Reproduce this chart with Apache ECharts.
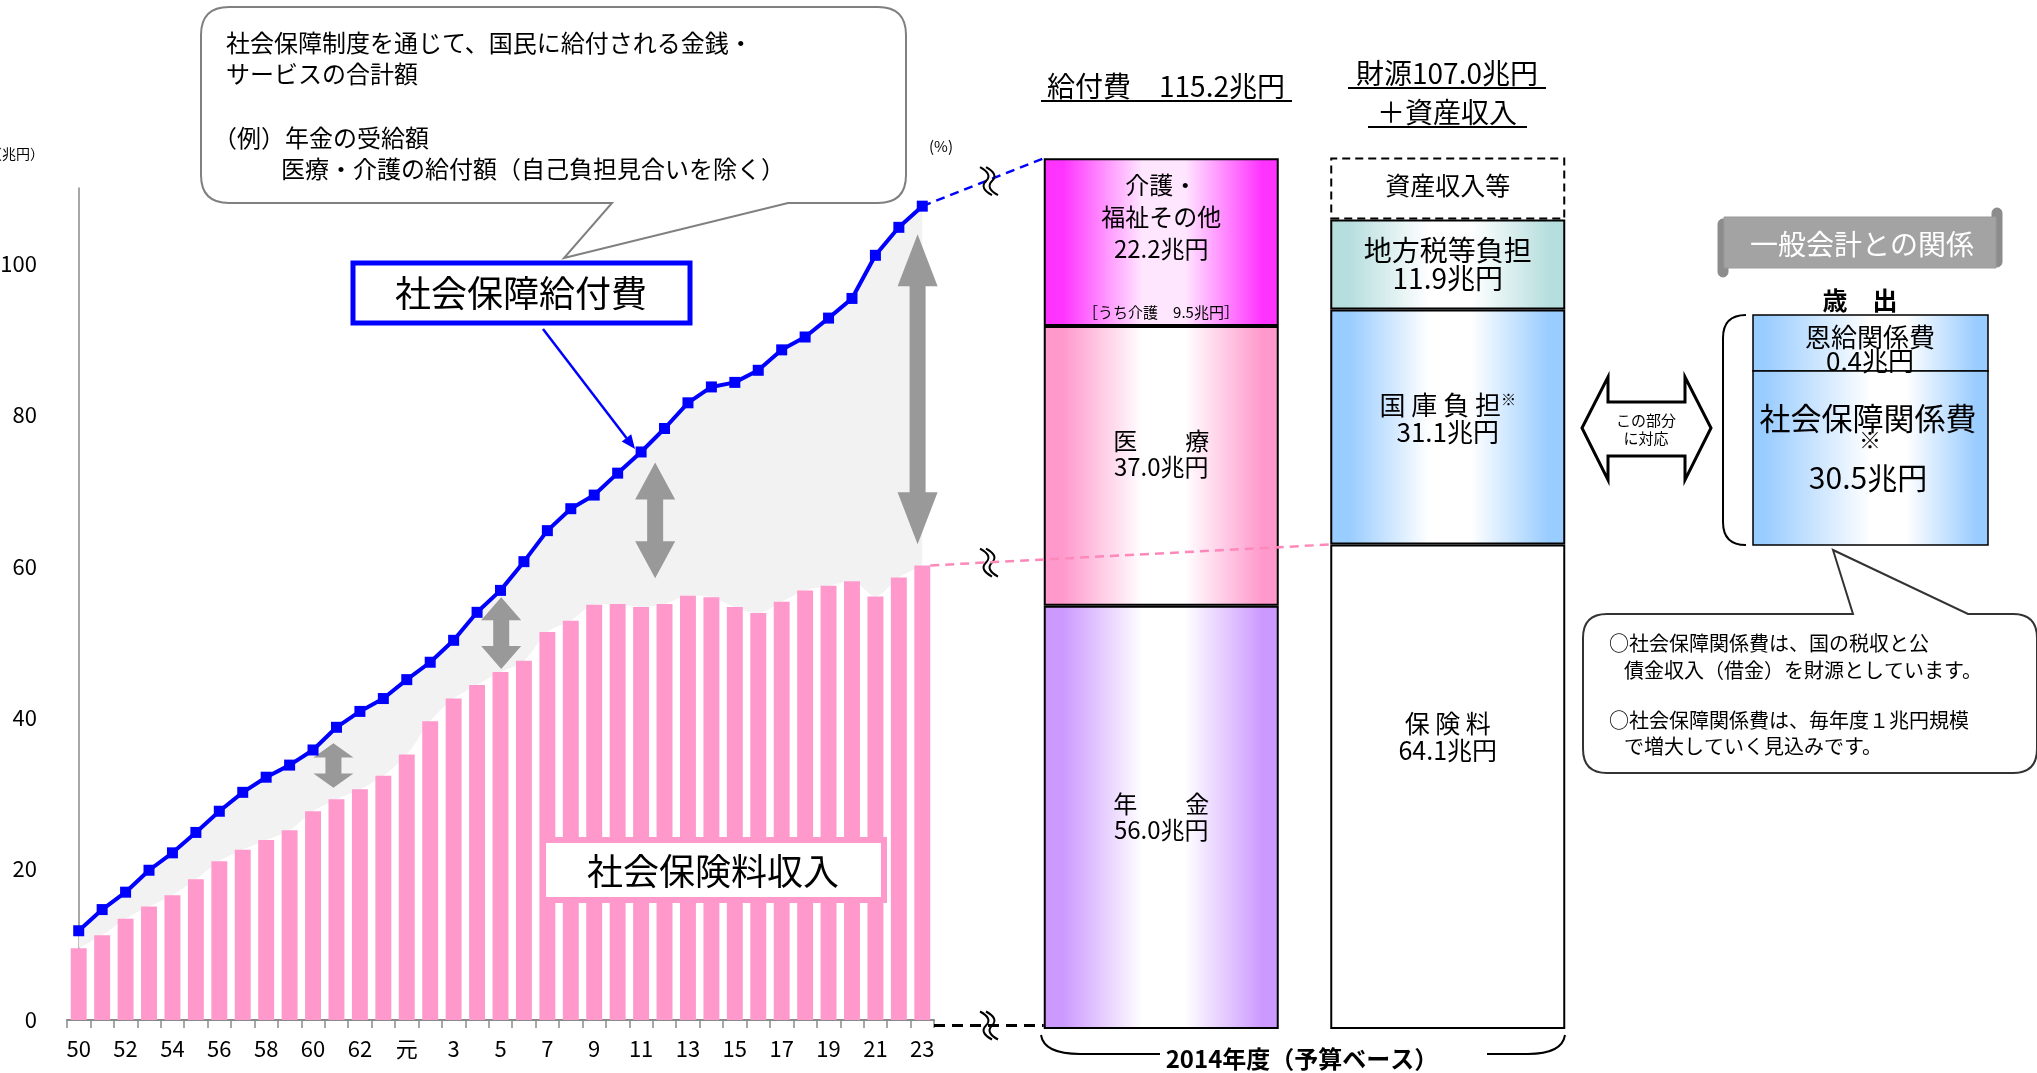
<!DOCTYPE html>
<html><head><meta charset="utf-8">
<script src="https://cdn.jsdelivr.net/npm/echarts@6/dist/echarts.min.js"></script>
<style>html,body{margin:0;padding:0;background:#fff}#c{width:2037px;height:1073px}</style>
</head><body><div id="c"></div>
<script>
// ---- data ----
const years = ['50','51','52','53','54','55','56','57','58','59','60','61','62','63','元','2','3','4','5','6','7','8','9','10','11','12','13','14','15','16','17','18','19','20','21','22','23'];
const benefitTotal = [11.8,14.6,16.9,19.8,22.1,24.8,27.6,30.1,32.1,33.7,35.7,38.7,40.8,42.5,45.0,47.3,50.2,53.9,56.8,60.6,64.7,67.6,69.4,72.3,75.1,78.2,81.6,83.7,84.3,85.9,88.6,90.3,92.8,95.4,101.1,104.8,107.6];
const insuranceIncome = [9.5,11.2,13.4,15.0,16.5,18.6,21.0,22.5,23.8,25.1,27.6,29.2,30.5,32.3,35.1,39.5,42.5,44.3,46.0,47.5,51.3,52.8,54.9,55.0,54.6,55.0,56.1,55.9,54.6,53.8,55.3,56.8,57.4,58.0,56.0,58.5,60.1];
const gapArrows = [[10.87,36.6,30.7],[18.03,55.9,46.4],[24.6,73.7,58.4],[35.8,103.9,62.9]];
const yMax = 110, yStep = 20;
const columnCats = ['給付費','財源'];
const benefitLabels = ['年　　金','医　　療','介護・\n福祉その他'];
const benefitValues = [56.0,37.0,22.2];
const fundLabels = ['保 険 料','国 庫 負 担','地方税等負担','資産収入等'];
const fundValues = [64.1,31.1,11.9,8.2];
const generalLabels = ['恩給関係費','社会保障関係費'];
const generalValues = [0.4,30.5];

// ---- layout ----
const FF = 'Noto Sans CJK JP';
const G0 = {left:67, top:188, width:867, height:832};
const G1 = {left:1018, top:122, width:573, height:907};
const colBarW = 235;
const grad = (c, mid) => new echarts.graphic.LinearGradient(0,0,1,0,[
  {offset:0,color:c},{offset:0.08,color:c},{offset:0.42,color:mid||'#fff'},{offset:0.6,color:mid||'#fff'},{offset:0.93,color:c},{offset:1,color:c}]);
const gradR = c => new echarts.graphic.LinearGradient(0,0,1,0,[
  {offset:0,color:c},{offset:0.05,color:c},{offset:0.5,color:'#fff'},{offset:0.65,color:'#fff'},{offset:0.95,color:c},{offset:1,color:c}]);

const gapValues = benefitTotal.map((v,i)=> +(v - insuranceIncome[i]).toFixed(2));

const benefitStyles = [
  {fill:grad('#cc99ff'), fs:24, lh:26, off:0},
  {fill:grad('#ff99cc'), fs:24, lh:26, off:-12},
  {fill:grad('#ff33ff','#ffe6ff'), fs:24, lh:32, off:-25}
];
const fundStyles = [
  {fill:'#ffffff', fs:25, lh:27, off:-50},
  {fill:grad('#99ccff'), fs:26, lh:27, off:-8, sup:true},
  {fill:grad('#b7dede'), fs:28, lh:28, off:0},
  {fill:'#ffffff', fs:25, lh:27, off:-3, dashed:true, noValue:true}
];

const colSeries = [];
benefitValues.forEach((v,i)=>{
  const s = benefitStyles[i];
  colSeries.push({
    type:'bar', name:benefitLabels[i], xAxisIndex:2, yAxisIndex:1, stack:'col', barWidth:colBarW,
    data:[v,'-'],
    itemStyle:{color:s.fill, borderColor:'#000', borderWidth:2},
    label:{show:true, position:'inside', offset:[0,s.off], color:'#000', fontFamily:FF, fontSize:s.fs, lineHeight:s.lh,
      formatter: p => benefitLabels[i] + '\n' + p.value.toFixed(1) + '兆円'}
  });
});
fundValues.forEach((v,i)=>{
  const s = fundStyles[i];
  colSeries.push({
    type:'bar', name:fundLabels[i], xAxisIndex:2, yAxisIndex:1, stack:'col', barWidth:colBarW,
    data:['-',v],
    itemStyle:{color:s.fill, borderColor:'#000', borderWidth:2, borderType: s.dashed ? [8,5] : 'solid'},
    label:{show:true, position:'inside', offset:[0,s.off], color:'#000', fontFamily:FF, fontSize:s.fs, lineHeight:s.lh,
      rich:{t:{fontFamily:FF, fontSize:s.fs, lineHeight:s.lh, color:'#000'}, s:{fontFamily:FF, fontSize:15, lineHeight:s.lh, verticalAlign:'top', color:'#000'}},
      formatter: p => s.noValue ? fundLabels[i] : (s.sup ? '{t|'+fundLabels[i]+'}{s|※}\n{t|'+p.value.toFixed(1)+'兆円}' : fundLabels[i] + '\n' + p.value.toFixed(1) + '兆円')}
  });
});

const chart = echarts.init(document.getElementById('c'), null, {renderer:'canvas'});
const option = {
  animation:false,
  backgroundColor:'#fff',
  textStyle:{fontFamily:FF},
  grid:[
    Object.assign({outerBoundsMode:'none', containLabel:false}, G0),
    Object.assign({outerBoundsMode:'none', containLabel:false}, G1)
  ],
  xAxis:[
    {type:'category', gridIndex:0, data:years, boundaryGap:true,
      axisLine:{lineStyle:{color:'#8a8a8a', width:2}},
      axisTick:{show:true, interval:0, length:8, lineStyle:{color:'#8a8a8a', width:1.5}},
      axisLabel:{interval:1, color:'#000', fontSize:22, fontFamily:FF, margin:18},
      splitLine:{show:false}},
    {type:'value', gridIndex:0, min:-0.5, max:years.length-0.5, show:false},
    {type:'category', gridIndex:1, data:columnCats, show:false}
  ],
  yAxis:[
    {type:'value', gridIndex:0, min:0, max:yMax, interval:yStep,
      axisLine:{show:true, lineStyle:{color:'#8a8a8a', width:1.5}},
      axisTick:{show:false}, splitLine:{show:false},
      axisLabel:{color:'#000', fontSize:22, fontFamily:FF, margin:30, showMaxLabel:false}},
    {type:'value', gridIndex:1, min:0, max:120, show:false}
  ],
  series:[
    {type:'line', name:'base', xAxisIndex:0, yAxisIndex:0, stack:'gray', data:insuranceIncome, smooth:0.3,
      symbol:'none', lineStyle:{width:0, opacity:0}, silent:true, z:1},
    {type:'line', name:'gap', xAxisIndex:0, yAxisIndex:0, stack:'gray', data:gapValues, smooth:0.3,
      symbol:'none', lineStyle:{width:0, opacity:0}, areaStyle:{color:'#f2f2f2', opacity:1}, silent:true, z:1},
    {type:'bar', name:'社会保険料収入', xAxisIndex:0, yAxisIndex:0, data:insuranceIncome, barWidth:'68%',
      itemStyle:{color:'#ff99cc'}, z:2},
    {type:'custom', name:'arrows', xAxisIndex:1, yAxisIndex:0, data:gapArrows, encode:{x:0, y:[1,2]}, z:3,
      renderItem:(params, api)=>{
        const x = api.value(0);
        const p1 = api.coord([x, api.value(1)]), p2 = api.coord([x, api.value(2)]);
        const L = p2[1]-p1[1];
        const h = Math.min(52, L*0.32), hw = 20, sw = 8;
        const cx = p1[0], y1 = p1[1], y2 = p2[1];
        return {type:'polygon', shape:{points:[[cx,y1],[cx+hw,y1+h],[cx+sw,y1+h],[cx+sw,y2-h],[cx+hw,y2-h],[cx,y2],[cx-hw,y2-h],[cx-sw,y2-h],[cx-sw,y1+h],[cx-hw,y1+h]]},
          style:{fill:'#999999'}};
      }},
    {type:'line', name:'社会保障給付費', xAxisIndex:0, yAxisIndex:0, data:benefitTotal,
      symbol:'rect', symbolSize:11, lineStyle:{color:'#0000ff', width:4}, itemStyle:{color:'#0000ff'}, z:4}
  ].concat(colSeries)
};
chart.setOption(option);

// ---- annotations ----
let shapeN = 0;
const T = (text, x, y, o) => ({type:'text', silent:true, z:100, style:Object.assign({text, x, y, fill:'#000', fontFamily:FF, fontSize:22, align:'center', verticalAlign:'middle'}, o||{})});
const L = (x1,y1,x2,y2,o) => ({type:'line', silent:true, z:90, shape:{x1,y1,x2,y2}, style:Object.assign({stroke:'#000', lineWidth:2}, o||{})});
const P = (d, o, z) => {
  const name = 'svgShape' + (shapeN++);
  echarts.graphic.registerShape(name, echarts.graphic.extendPath(d, {}));
  return {type:name, silent:true, z:z||90, style:Object.assign({stroke:'#000', lineWidth:2, fill:'none'}, o||{})};
};
const R = (x,y,w,h,o,r) => ({type:'rect', silent:true, z:90, shape:{x,y,width:w,height:h,r:r||0}, style:Object.assign({stroke:'#000', lineWidth:2, fill:'#fff'}, o||{})});
const breakMark = (cx, cy) => [0,6].map(dx => P(`M${cx-6+dx},${cy-14} Q${cx+7+dx},${cy-7} ${cx+dx},${cy} Q${cx-7+dx},${cy+7} ${cx+6+dx},${cy+14}`, {lineWidth:2}, 95));

const last = years.length-1;
const pLine = chart.convertToPixel({xAxisIndex:0,yAxisIndex:0},[last, benefitTotal[last]]);
const pBar = chart.convertToPixel({xAxisIndex:0,yAxisIndex:0},[last, insuranceIncome[last]]);
const p0 = chart.convertToPixel({xAxisIndex:0,yAxisIndex:0},[last, 0]);
const catW = G0.width/years.length;
const barRight = pBar[0] + catW*0.68/2;
const axisEnd = G0.left + G0.width;
const benefitSum = benefitValues.reduce((a,b)=>a+b,0);
const cTop = chart.convertToPixel({xAxisIndex:2,yAxisIndex:1},[0, benefitSum]);
const cBot = chart.convertToPixel({xAxisIndex:2,yAxisIndex:1},[0, 0]);
const fTop = chart.convertToPixel({xAxisIndex:2,yAxisIndex:1},[1, fundValues[0]]);
const cLeft = cTop[0]-colBarW/2, fLeft = fTop[0]-colBarW/2;
const mx = 986;
const lerp = (x1,y1,x2,y2,x) => y1 + (y2-y1)*(x-x1)/(x2-x1);
const zeroY = (p0[1]+cBot[1])/2 + 1;

// blue arrow
const a1=[543,329], a2=[635,449];
const dx=a2[0]-a1[0], dy=a2[1]-a1[1], dl=Math.hypot(dx,dy), ux=dx/dl, uy=dy/dl;
const hb=[a2[0]-14*ux, a2[1]-14*uy];

const elements = [
  // left callout bubble
  P('M229,7 H878 Q906,7 906,35 V175 Q906,203 878,203 H788 L564,258 L612,203 H229 Q201,203 201,175 V35 Q201,7 229,7 Z', {stroke:'#808080', lineWidth:2, fill:'#fff'}),
  T('社会保障制度を通じて、国民に給付される金銭・', 226, 43, {align:'left', fontSize:24}),
  T('サービスの合計額', 226, 74, {align:'left', fontSize:24}),
  T('（例）年金の受給額', 213, 138, {align:'left', fontSize:24}),
  T('医療・介護の給付額（自己負担見合いを除く）', 281, 169, {align:'left', fontSize:24}),
  // unit labels
  T('（兆円）', 44, 154, {align:'right', fontSize:14}),
  T('(%)', 941, 146, {fontSize:15}),
  // 社会保障給付費 box
  R(353,263,337,60,{stroke:'#0000ff', lineWidth:5}),
  T('社会保障給付費', 521, 293, {fontSize:36}),
  L(a1[0],a1[1],hb[0],hb[1],{stroke:'#0000ff', lineWidth:2.5}),
  {type:'polygon', silent:true, z:91, shape:{points:[a2,[hb[0]-6*uy, hb[1]+6*ux],[hb[0]+6*uy, hb[1]-6*ux]]}, style:{fill:'#0000ff'}},
  // 社会保険料収入 box
  R(543,840,341,60,{stroke:'#ff99cc', lineWidth:6}),
  T('社会保険料収入', 713, 871, {fontSize:36}),
  // connecting dashed lines
  L(pLine[0], pLine[1], cLeft, cTop[1], {stroke:'#0000ff', lineWidth:2.5, lineDash:[9,6]}),
  Object.assign(L(barRight, pBar[1], fLeft, fTop[1], {stroke:'#ff88bb', lineWidth:2.5, lineDash:[9,6]}), {z:96}),
  L(axisEnd, zeroY, cLeft, zeroY, {stroke:'#000', lineWidth:3, lineDash:[11,7]}),
  ...breakMark(mx, lerp(pLine[0],pLine[1],cLeft,cTop[1],mx)),
  ...breakMark(mx, lerp(barRight,pBar[1],fLeft,fTop[1],mx)),
  ...breakMark(mx, zeroY),
  // headings
  T('給付費　115.2兆円', 1166, 86, {fontSize:28}),
  L(1041,101,1292,101),
  T('財源107.0兆円', 1447, 73, {fontSize:28}),
  L(1348,88,1546,88),
  T('＋資産収入', 1447, 112, {fontSize:28}),
  L(1368,127,1527,127),
  T('［うち介護　9.5兆円］', 1161, 312, {fontSize:15}),
  // bottom bracket
  P('M1041,1035 Q1044,1054 1080,1054 H1160'),
  P('M1487,1054 H1528 Q1562,1054 1565,1035'),
  T('2014年度（予算ベース）', 1302, 1059, {fontSize:24, fontWeight:'bold'}),
  // double arrow
  {type:'polygon', silent:true, z:90, shape:{points:[[1582,428],[1608,377],[1608,402],[1685,402],[1685,377],[1711,428],[1685,480],[1685,456],[1608,456],[1608,480]]}, style:{fill:'#fff', stroke:'#000', lineWidth:3}},
  T('この部分', 1646, 420, {fontSize:15}),
  T('に対応', 1646, 438, {fontSize:15}),
  // scroll banner
  R(1718,219,10,58,{fill:'#8c8c8c', stroke:'#8c8c8c', lineWidth:1},5),
  R(1992,208,10,59,{fill:'#8c8c8c', stroke:'#8c8c8c', lineWidth:1},5),
  R(1724,217,272,51,{fill:'#a3a3a3', stroke:'#9a9a9a', lineWidth:1}),
  T('一般会計との関係', 1862, 244, {fontSize:28, fill:'#fff'}),
  T('歳　出', 1860, 300, {fontSize:25, fontWeight:'bold'}),
  // general account box
  P('M1746,315 Q1723,315 1723,338 V522 Q1723,545 1746,545'),
  R(1753,315,235,56,{fill:gradR('#99ccff'), lineWidth:1.5}),
  R(1753,371,235,174,{fill:gradR('#99ccff'), lineWidth:1.5}),
  T(generalLabels[0], 1870, 337, {fontSize:26}),
  T(generalValues[0].toFixed(1)+'兆円', 1870, 361, {fontSize:26}),
  T(generalLabels[1], 1868, 418, {fontSize:31}),
  T('※', 1870, 440, {fontSize:22}),
  T(generalValues[1].toFixed(1)+'兆円', 1868, 478, {fontSize:30}),
  // right callout
  P('M1607,614 H1853 L1833,550 L1968,614 H2013 Q2037,614 2037,638 V749 Q2037,773 2013,773 H1607 Q1583,773 1583,749 V638 Q1583,614 1607,614 Z', {stroke:'#333', lineWidth:2, fill:'#fff'}),
  T('○社会保障関係費は、国の税収と公', 1609, 643, {align:'left', fontSize:20}),
  T('債金収入（借金）を財源としています。', 1624, 670, {align:'left', fontSize:20}),
  T('○社会保障関係費は、毎年度１兆円規模', 1609, 720, {align:'left', fontSize:20}),
  T('で増大していく見込みです。', 1624, 746, {align:'left', fontSize:20})
];
chart.setOption({graphic:{elements}});
</script></body></html>
